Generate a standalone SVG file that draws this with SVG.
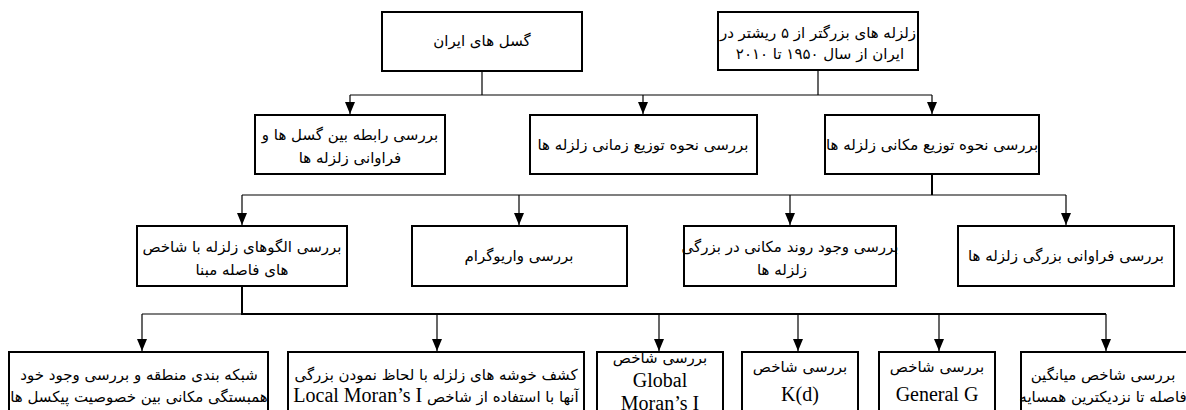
<svg xmlns="http://www.w3.org/2000/svg" width="1186" height="410" viewBox="0 0 1186 410">
<style>
.box{fill:#fff;stroke:#000;stroke-width:2}
.fa{font-family:"DejaVu Sans",sans-serif;font-size:15px;fill:#000;text-anchor:middle;direction:rtl}
.lat{font-family:"Liberation Serif",serif;font-size:20px}
.ln{fill:none;stroke:#000;stroke-width:1.2}
.th{fill:none;stroke:#000;stroke-width:2}
.ar{fill:none;stroke:#000;stroke-width:1.2;marker-end:url(#ah)}
</style>
<defs>
<marker id="ah" markerUnits="userSpaceOnUse" markerWidth="12" markerHeight="10" viewBox="0 0 12 10" refX="12" refY="5" orient="auto">
<path d="M0,0 L12,5 L0,10 z" fill="#000"/>
</marker>
</defs>
<rect width="1186" height="410" fill="#fff"/>
<g id="connectors">
<path class="ln" d="M482,71 V95 M818,70 V95 M350,95 H932"/>
<path class="ar" d="M350,95 V114"/>
<path class="ar" d="M643,95 V114"/>
<path class="ar" d="M932,95 V114"/>
<path class="th" d="M932,174 V195"/>
<path class="ln" d="M242,195 H1066"/>
<path class="ar" d="M242,195 V225"/>
<path class="ar" d="M519,195 V225"/>
<path class="ar" d="M790,195 V225"/>
<path class="ar" d="M1066,195 V225"/>
<path class="th" d="M242,286 V314 H1106"/>
<path class="ln" d="M142,314 H242"/>
<path class="ar" d="M142,314 V351"/>
<path class="ar" d="M437,314 V351"/>
<path class="ar" d="M659,314 V351"/>
<path class="ar" d="M798,314 V351"/>
<path class="ar" d="M939,314 V351"/>
<path class="ar" d="M1106,314 V351"/>
</g>
<g id="n-faults">
<rect class="box" x="382" y="12" width="200" height="59"/>
<text class="fa" x="482" y="46">گسل های ایران</text>
</g>
<g id="n-quakes">
<rect class="box" x="718" y="12" width="200" height="58"/>
<text class="fa" x="818" y="38">زلزله های بزرگتر از ۵ ریشتر در</text>
<text class="fa" x="820" y="59">ایران از سال ۱۹۵۰ تا ۲۰۱۰</text>
</g>
<g id="n-relation">
<rect class="box" x="255" y="115" width="190" height="59"/>
<text class="fa" x="350" y="140">بررسی رابطه بین گسل ها و</text>
<text class="fa" x="350" y="163">فراوانی زلزله ها</text>
</g>
<g id="n-temporal">
<rect class="box" x="530" y="115" width="227" height="59"/>
<text class="fa" x="643" y="150">بررسی نحوه توزیع زمانی زلزله ها</text>
</g>
<g id="n-spatial">
<rect class="box" x="825" y="115" width="214" height="59"/>
<text class="fa" x="932" y="150">بررسی نحوه توزیع مکانی زلزله ها</text>
</g>
<g id="n-patterns">
<rect class="box" x="137" y="226" width="210" height="60"/>
<text class="fa" x="242" y="252">بررسی الگوهای زلزله با شاخص</text>
<text class="fa" x="242" y="275">های فاصله مبنا</text>
</g>
<g id="n-variogram">
<rect class="box" x="412" y="226" width="215" height="60"/>
<text class="fa" x="519" y="261">بررسی واریوگرام</text>
</g>
<g id="n-trend">
<rect class="box" x="684" y="226" width="212" height="60"/>
<text class="fa" x="790" y="252">بررسی وجود روند مکانی در بزرگی</text>
<text class="fa" x="782" y="275">زلزله ها</text>
</g>
<g id="n-magfreq">
<rect class="box" x="958" y="226" width="216" height="60"/>
<text class="fa" x="1066" y="261">بررسی فراوانی بزرگی زلزله ها</text>
</g>
<g id="n-grid">
<rect class="box" x="9" y="352" width="259" height="80"/>
<text class="fa" x="139" y="380">شبکه بندی منطقه و بررسی وجود خود</text>
<text class="fa" x="139" y="402">همبستگی مکانی بین خصوصیت پیکسل ها</text>
</g>
<g id="n-localmoran">
<rect class="box" x="288" y="352" width="296" height="80"/>
<text class="fa" x="436" y="380">کشف خوشه های زلزله با لحاظ نمودن بزرگی</text>
<text class="fa" x="436" y="402">آنها با استفاده از شاخص <tspan class="lat">Local Moran’s I</tspan></text>
</g>
<g id="n-globalmoran">
<rect class="box" x="597" y="352" width="126" height="80"/>
<text class="fa" x="660" y="363">بررسی شاخص</text>
<text class="fa lat" x="660" y="387">Global</text>
<text class="fa lat" x="660" y="410" style="direction:ltr">Moran’s I</text>
</g>
<g id="n-kd">
<rect class="box" x="742" y="352" width="116" height="80"/>
<text class="fa" x="800" y="372">بررسی شاخص</text>
<text class="fa lat" x="800" y="401" style="direction:ltr">K(d)</text>
</g>
<g id="n-generalg">
<rect class="box" x="879" y="352" width="116" height="80"/>
<text class="fa" x="937" y="372">بررسی شاخص</text>
<text class="fa lat" x="937" y="401" style="direction:ltr">General G</text>
</g>
<g id="n-nn">
<rect class="box" x="1021" y="352" width="180" height="80"/>
<text class="fa" x="1103" y="380">بررسی شاخص میانگین</text>
<text class="fa" x="1103" y="402">فاصله تا نزدیکترین همسایه</text>
</g>
</svg>
